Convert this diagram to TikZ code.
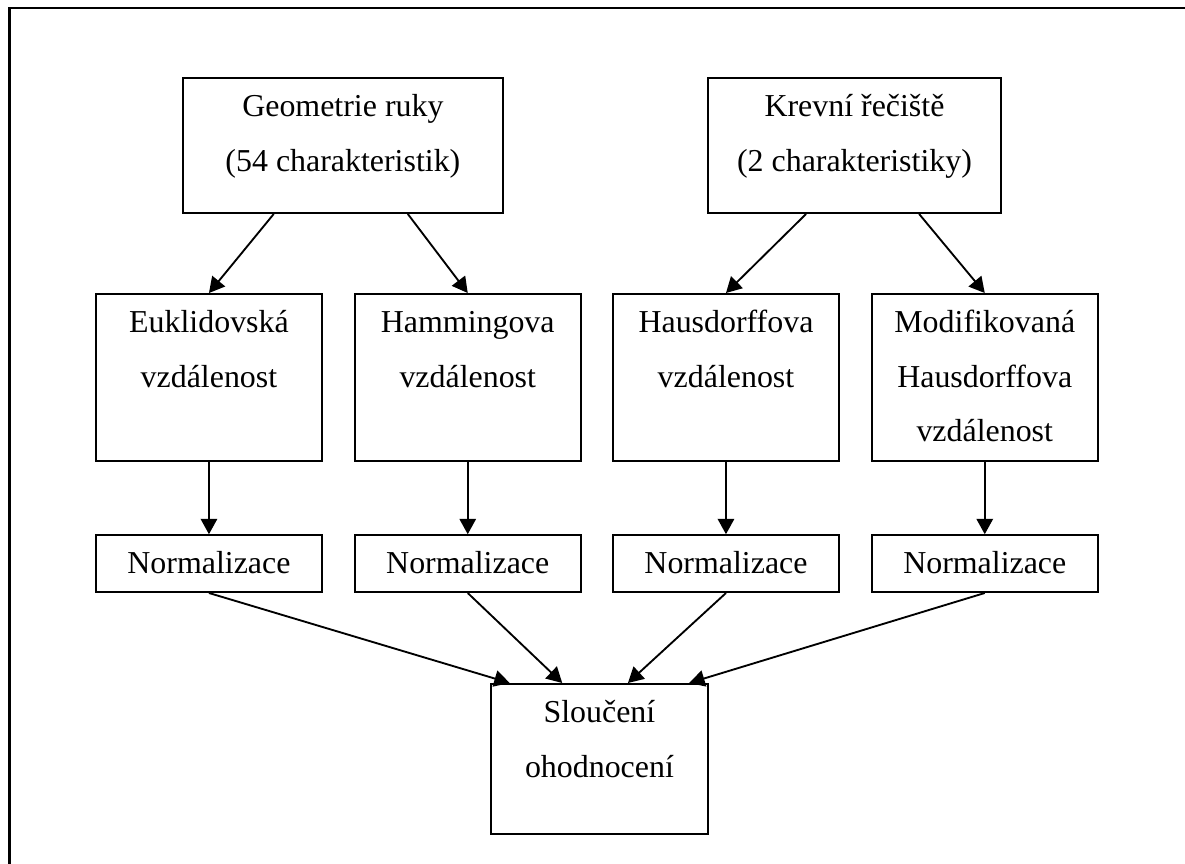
\documentclass[tikz,border=0pt]{standalone}
\usepackage{fontspec}
\setmainfont{Liberation Serif}
\usetikzlibrary{arrows.meta, positioning, calc}

\begin{document}
\begin{tikzpicture}[
        x=0.376pt, y=-0.376pt,
        font=\fontsize{12pt}{20.5pt}\selectfont,
        block/.style={
            rectangle,
            draw,
            line width=0.7pt,
            inner xsep=2pt,
            inner ysep=5.5pt,
            text height=29.5pt,
            align=center
        },
        dist/.style={block, minimum width=85pt, text depth=22.3pt},
        norm/.style={block, minimum width=85pt, text height=9pt, text depth=1.4pt},
        line/.style={draw, line width=0.7pt, -{Triangle[length=5.8pt, width=6.2pt]}}
    ]
        \useasboundingbox (0,0) rectangle (1185,863);
        % frame
        \draw [line width=0.8pt] (9.5,880) -- (9.5,8) -- (1200,8);

        % nodes
        \node [block, anchor=north west, minimum width=120.3pt, text depth=10.3pt] (geo) at (182,77) {Geometrie ruky\\(54 charakteristik)};
        \node [block, anchor=north west, minimum width=110.2pt, text depth=10.3pt] (krev) at (707,77) {Krevní řečiště\\(2 charakteristiky)};

        \node [dist, anchor=north west] (eukl) at (95,293) {Euklidovská\\vzdálenost};
        \node [dist, right=11.6pt of eukl] (ham) {Hammingova\\vzdálenost};
        \node [dist, right=11.4pt of ham] (haus) {Hausdorffova\\vzdálenost};
        \node [dist, right=11.6pt of haus, text height=50pt, text depth=1.8pt] (mod) {Modifikovaná\\Hausdorffova\\vzdálenost};

        \node [norm, below=27.2pt of eukl] (norm1) {Normalizace};
        \node [norm, below=27.2pt of ham] (norm2) {Normalizace};
        \node [norm, below=27.2pt of haus] (norm3) {Normalizace};
        \node [norm, below=27.2pt of mod] (norm4) {Normalizace};

        \node [block, anchor=north west, minimum width=81.6pt, text depth=15.9pt] (merge) at (490,683) {Sloučení\\ohodnocení};

        % paths
        \path [line] ([xshift=-26pt]geo.south) -- (eukl.north);
        \path [line] ([xshift=24.4pt]geo.south) -- (ham.north);
        \path [line] ([xshift=-18.2pt]krev.south) -- (haus.north);
        \path [line] ([xshift=24.3pt]krev.south) -- (mod.north);

        \path [line] (eukl) -- (norm1);
        \path [line] (ham) -- (norm2);
        \path [line] (haus) -- (norm3);
        \path [line] (mod) -- (norm4);

        \path [line] (norm1.south) -- ($(merge.north west)!0.09!(merge.north east)$);
        \path [line] (norm2.south) -- ($(merge.north west)!0.33!(merge.north east)$);
        \path [line] (norm3.south) -- ($(merge.north west)!0.63!(merge.north east)$);
        \path [line] (norm4.south) -- ($(merge.north west)!0.91!(merge.north east)$);

    \end{tikzpicture}
\end{document}
